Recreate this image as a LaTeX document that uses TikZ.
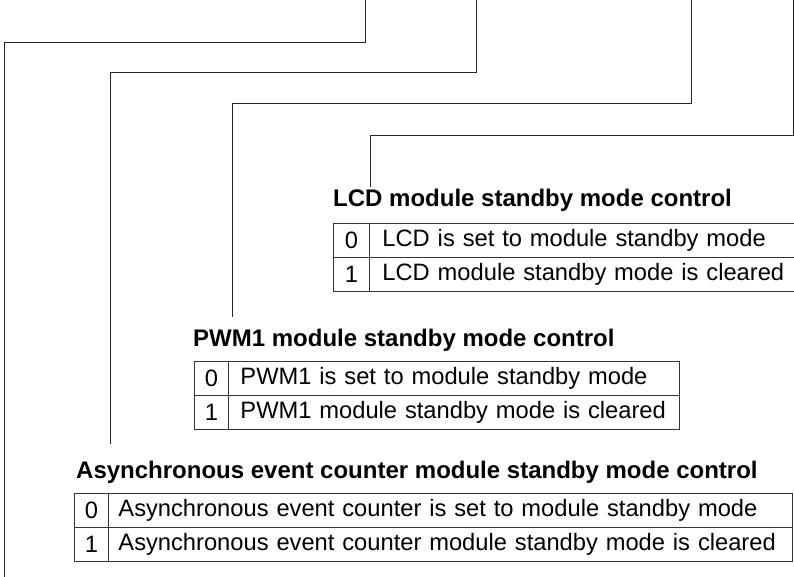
\documentclass[tikz,border=0pt]{standalone}
\usepackage{fontspec}
\setmainfont{Liberation Sans}
\begin{document}
\begin{tikzpicture}[x=1pt,y=-1pt,
  wire/.style={line width=0.9pt, draw=black!85},
  ttl/.style={font=\fontsize{24}{28}\selectfont\bfseries, anchor=base west, inner sep=0pt},
  keycell/.style={draw=black!80, line width=0.9pt, font=\fontsize{23.7}{28}\selectfont,
    minimum height=34pt, anchor=north west, inner sep=0pt},
  valcell/.style={draw=black!80, line width=0.9pt, font=\fontsize{23.7}{28}\selectfont,
    minimum height=34pt, anchor=north west, inner ysep=0pt, align=left},
]
\useasboundingbox (0,0) rectangle (794,577);

% ---- connector coordinates ----
\coordinate (aTop) at (365,0);  \coordinate (aBend) at (365,42);  \coordinate (aEnd) at (4,578);
\coordinate (bTop) at (476,0);  \coordinate (bBend) at (476,72);  \coordinate (bEnd) at (110,444);
\coordinate (cTop) at (691,0);  \coordinate (cBend) at (691,103); \coordinate (cEnd) at (232,317);
\coordinate (dTop) at (793,0);  \coordinate (dBend) at (793,135); \coordinate (dEnd) at (370,187);

\draw[wire] (aTop) -- (aBend) -| (aEnd);
\draw[wire] (bTop) -- (bBend) -| (bEnd);
\draw[wire] (cTop) -- (cBend) -| (cEnd);
\draw[wire] (dTop) -- (dBend) -| (dEnd);

% ---- LCD ----
\node[ttl] (lcdT) at (333,207) {LCD module standby mode control};
\node[keycell, minimum width=36pt] (lcd0k) at (333,223) {0};
\node[valcell, text width=430pt, inner xsep=13pt] (lcd0v) at (369,223) {LCD is set to module standby mode};
\node[keycell, minimum width=36pt] (lcd1k) at (333,257) {1};
\node[valcell, text width=430pt, inner xsep=13pt] (lcd1v) at (369,257) {LCD module standby mode is cleared};

% ---- PWM1 ----
\node[ttl] (pwmT) at (193,346) {PWM1 module standby mode control};
\node[keycell, minimum width=34pt] (pwm0k) at (194,361) {0};
\node[valcell, text width=427pt, inner xsep=12pt] (pwm0v) at (228,361) {PWM1 is set to module standby mode};
\node[keycell, minimum width=34pt] (pwm1k) at (194,395) {1};
\node[valcell, text width=427pt, inner xsep=12pt] (pwm1v) at (228,395) {PWM1 module standby mode is cleared};

% ---- Asynchronous event counter ----
\node[ttl] (aecT) at (76,478) {Asynchronous event counter module standby mode control};
\node[keycell, minimum width=34pt] (aec0k) at (74,493) {0};
\node[valcell, text width=664pt, inner xsep=10pt] (aec0v) at (108,493) {Asynchronous event counter is set to module standby mode};
\node[keycell, minimum width=34pt] (aec1k) at (74,527) {1};
\node[valcell, text width=664pt, inner xsep=10pt] (aec1v) at (108,527) {Asynchronous event counter module standby mode is cleared};
\end{tikzpicture}
\end{document}
